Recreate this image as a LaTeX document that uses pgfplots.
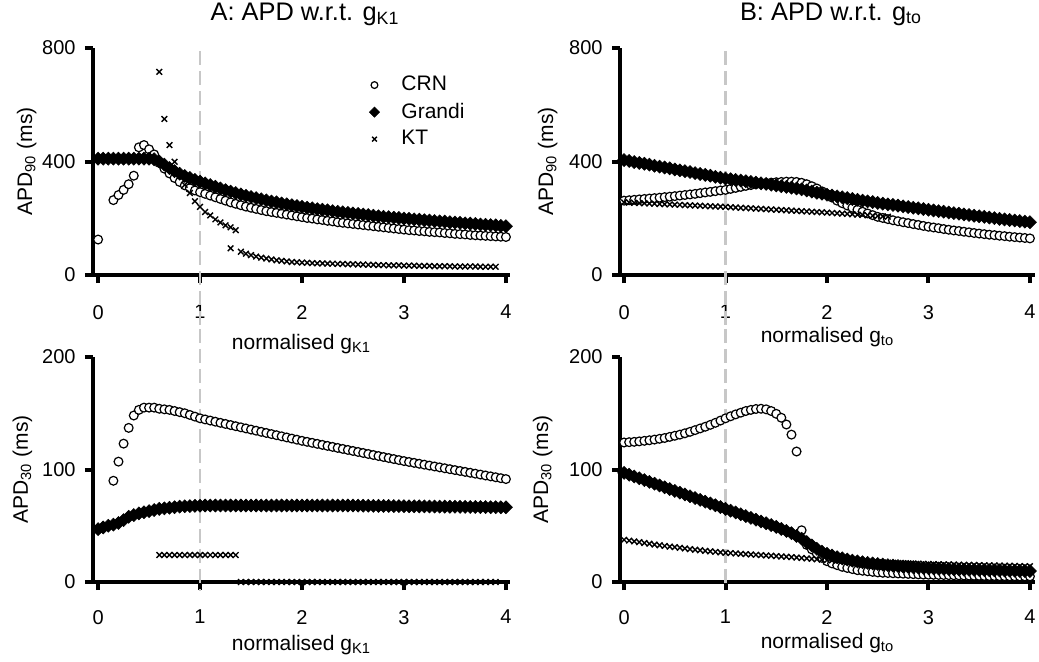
\documentclass[border=0pt]{standalone}
\usepackage{fontspec}
\setmainfont{Liberation Sans}
\usepackage{pgfplots}
\usepackage{pgfplotstable}
\pgfplotsset{compat=1.18}

\pgfplotstableread{
x c g
0.00 125 410
0.05 nan 410
0.10 nan 410
0.15 264 410
0.20 282 410
0.25 300 410
0.30 320 410
0.35 350 410
0.40 450 410
0.45 458 410
0.50 443 410
0.55 425 408
0.60 395 400
0.65 375 389
0.70 358 377
0.75 342 366
0.80 328 357
0.85 316 349
0.90 306 342
0.95 298 335
1.00 292 329
1.05 286 323
1.10 280 317
1.15 274 311
1.20 268 305
1.25 262 299
1.30 256 294
1.35 251 289
1.40 246 284
1.45 241 279
1.50 237 275
1.55 233 271
1.60 229 267
1.65 225 263
1.70 222 259
1.75 219 256
1.80 216 252
1.85 213 249
1.90 210 246
1.95 207 243
2.00 204 240
2.05 201 237
2.10 199 235
2.15 196 232
2.20 194 230
2.25 191 228
2.30 189 225
2.35 186 223
2.40 184 221
2.45 182 219
2.50 180 217
2.55 178 215
2.60 176 213
2.65 174 211
2.70 172 209
2.75 170 207
2.80 168 205
2.85 166 204
2.90 164 202
2.95 162 201
3.00 160 199
3.05 158 198
3.10 157 196
3.15 155 195
3.20 154 193
3.25 152 192
3.30 151 190
3.35 150 189
3.40 148 188
3.45 147 186
3.50 145 185
3.55 144 184
3.60 143 182
3.65 141 181
3.70 140 180
3.75 139 178
3.80 138 177
3.85 137 176
3.90 136 175
3.95 135 173
4.00 134 172
}\tabAtop

\pgfplotstableread{
x c g k
0.00 47 47 nan
0.05 nan 48.5 nan
0.10 nan 50 nan
0.15 90 51 nan
0.20 107 52.5 nan
0.25 123 55 nan
0.30 137 58 nan
0.35 148 59.5 nan
0.40 153 61 nan
0.45 155 62 nan
0.50 155 63 nan
0.55 155 64 nan
0.60 154 65 24
0.65 153.5 65.5 24
0.70 153 66 24
0.75 152 66.5 24
0.80 151 67 24
0.85 150 67.3 24
0.90 148.5 67.5 24
0.95 147 67.7 24
1.00 145.5 67.8 24
1.05 144.5 68 24
1.10 143.5 68 24
1.15 142.5 68 24
1.20 141.5 68 24
1.25 140.5 68 24
1.30 139.5 68 24
1.35 138.5 68 24
1.40 137.5 68 0
1.45 136.5 68 0
1.50 135.5 68 0
1.55 134.5 68 0
1.60 133.5 68 0
1.65 132.5 68 0
1.70 131.5 68 0
1.75 130.5 68 0
1.80 129.5 68 0
1.85 128.5 68 0
1.90 127.5 68 0
1.95 126.5 68 0
2.00 125.5 68 0
2.05 124.6 68 0
2.10 123.7 68 0
2.15 122.8 68 0
2.20 121.9 68 0
2.25 121 68 0
2.30 120.1 68 0
2.35 119.2 68 0
2.40 118.3 68 0
2.45 117.4 68 0
2.50 116.5 68 0
2.55 115.6 67.9 0
2.60 114.7 67.8 0
2.65 113.8 67.8 0
2.70 112.9 67.7 0
2.75 112 67.7 0
2.80 111.1 67.6 0
2.85 110.2 67.6 0
2.90 109.3 67.5 0
2.95 108.4 67.5 0
3.00 107.5 67.4 0
3.05 106.7 67.3 0
3.10 105.9 67.3 0
3.15 105.1 67.2 0
3.20 104.3 67.2 0
3.25 103.5 67.1 0
3.30 102.7 67.1 0
3.35 101.9 67 0
3.40 101.1 67 0
3.45 100.3 66.9 0
3.50 99.5 66.9 0
3.55 98.7 66.8 0
3.60 97.9 66.8 0
3.65 97.1 66.7 0
3.70 96.3 66.7 0
3.75 95.5 66.6 0
3.80 94.7 66.6 0
3.85 93.9 66.5 0
3.90 93.1 66.5 0
3.95 92.3 66.4 nan
4.00 91.5 66.4 nan
}\tabAbot

\pgfplotstableread{
x c g k
0.00 262 405 256
0.05 263.5 402 255.2
0.10 265 398 254.4
0.15 266.5 395 253.6
0.20 268 392 252.8
0.25 269.5 389 252
0.30 271 385 251.2
0.35 272.5 382 250.4
0.40 274.5 379 249.6
0.45 276 376 248.8
0.50 278 372 248
0.55 280 369 247.2
0.60 282 366 246.4
0.65 284 363 245.6
0.70 286 359 244.8
0.75 288.5 356 244
0.80 291 353 243.2
0.85 293 350 242.4
0.90 295.5 346 241.6
0.95 298 343 240.8
1.00 300 340 240
1.05 303.5 337.5 239
1.10 307 335 238
1.15 310.5 333 237
1.20 314 330.5 236
1.25 317 328 235
1.30 320 325.5 234
1.35 322 323 233
1.40 324 321 232
1.45 325.5 318.5 231
1.50 327 316 230
1.55 328 313 229
1.60 329 310.5 228
1.65 329 308 227
1.70 328 305 226
1.75 325 302 225
1.80 320 298 224
1.85 313 294 223
1.90 305 290 222
1.95 295 286.5 221
2.00 285 283 220
2.05 273 280 218.8
2.10 262 277 217.6
2.15 253 274 216.4
2.20 245 271 215.2
2.25 237 268 214
2.30 230 265 212.8
2.35 223 262 211.6
2.40 217 259.5 210.4
2.45 211 257 209.2
2.50 205 254 208
2.55 201 251.5 206.8
2.60 197 249 205.6
2.65 193 247 nan
2.70 189.5 244.5 nan
2.75 186 242 nan
2.80 183 239.5 nan
2.85 179.5 237 nan
2.90 176.5 235 nan
2.95 173 232.5 nan
3.00 170 230 nan
3.05 167.5 227.5 nan
3.10 165 225 nan
3.15 162 223 nan
3.20 159.5 220.5 nan
3.25 157 218 nan
3.30 155 216 nan
3.35 152.5 213.5 nan
3.40 150.5 211.5 nan
3.45 148 209 nan
3.50 146 207 nan
3.55 144 205 nan
3.60 142 202.5 nan
3.65 140.5 200.5 nan
3.70 138.5 198 nan
3.75 137 196 nan
3.80 135 194 nan
3.85 133.5 192 nan
3.90 132 190 nan
3.95 130.5 188 nan
4.00 129 186 nan
}\tabBtop

\pgfplotstableread{
x c g k
0.00 124 97 37.5
0.05 124.3 95.4 36.8
0.10 124.6 93.8 36.1
0.15 125 92.2 35.4
0.20 125.5 90.6 34.7
0.25 126 89 34
0.30 126.6 87.4 33.3
0.35 127.3 85.8 32.7
0.40 128 84.2 32.1
0.45 129 82.6 31.5
0.50 130 81 31
0.55 131 79.4 30.4
0.60 132.2 77.8 29.8
0.65 133.5 76.2 29.2
0.70 135 74.6 28.7
0.75 136.5 73 28.2
0.80 138 71.4 27.7
0.85 139.7 69.8 27.2
0.90 141.5 68.2 26.8
0.95 143.5 66.6 26.4
1.00 145.5 65 26
1.05 147.3 63.4 25.7
1.10 149 61.8 25.4
1.15 150.5 60.2 25.1
1.20 152 58.6 24.8
1.25 153 57 24.5
1.30 153.8 55.4 24.2
1.35 154 53.8 23.9
1.40 153.5 52.2 23.6
1.45 152 50.6 23.3
1.50 149.5 49 23
1.55 146 47.2 22.7
1.60 140 45.4 22.4
1.65 131 43.4 22.1
1.70 116 41 21.8
1.75 46 38.5 21.4
1.80 33 35.5 21
1.85 29 32.5 20.6
1.90 25 29.5 20.2
1.95 21.5 27 19.8
2.00 18.5 25 19.5
2.05 16.5 23.5 19.3
2.10 15 22 19.1
2.15 13.5 21 18.9
2.20 12.5 20 18.7
2.25 11.5 19 18.5
2.30 10.5 18.3 18.3
2.35 10 17.6 18.1
2.40 9.5 17 17.9
2.45 9 16.5 17.7
2.50 8.5 16 17.5
2.55 8.2 15.5 17.35
2.60 8 15 17.2
2.65 7.8 14.6 17.05
2.70 7.6 14.2 16.9
2.75 7.4 13.8 16.75
2.80 7.2 13.5 16.6
2.85 7 13.2 16.45
2.90 6.8 12.9 16.3
2.95 6.6 12.6 16.15
3.00 6.5 12.3 16
3.05 6.4 12.2 15.9
3.10 6.3 12 15.8
3.15 6.2 11.8 15.7
3.20 6.1 11.6 15.6
3.25 6 11.4 15.5
3.30 5.9 11.2 15.4
3.35 5.8 11 15.3
3.40 5.7 10.9 15.2
3.45 5.6 10.8 15.1
3.50 5.5 10.7 15
3.55 5.4 10.6 14.9
3.60 5.3 10.5 14.8
3.65 5.3 10.4 14.7
3.70 5.2 10.3 14.6
3.75 5.2 10.2 14.5
3.80 5.1 10.1 14.4
3.85 5.1 10 14.3
3.90 5 9.9 14.2
3.95 5 9.8 14.1
4.00 5 9.7 14
}\tabBbot

\tikzset{dashline/.style={color=black!22, line width=1.25bp, dash pattern=on 7bp off 3bp}}

\pgfplotsset{
  panel/.style={
    scale only axis, clip=false,
    axis x line=bottom, axis y line=left,
    axis line style={-, line width=2bp, black},
    tick align=outside, major tick length=4bp,
    tick style={line width=2bp, black},
    xtick={0,1,2,3,4},
    ticklabel style={font=\fontsize{10bp}{12bp}\selectfont, black},
    /pgf/number format/assume math mode=true,
    label style={font=\fontsize{10.5bp}{12bp}\selectfont},
    title style={font=\fontsize{12.7bp}{15bp}\selectfont, at={(axis description cs:0.5,1)}, anchor=base, yshift=8bp, xshift=1.75bp},
    yticklabel style={xshift=-1.2bp},
  },
  crn/.style={only marks, black, mark=*, mark size=2.2bp,
    mark options={fill=white, draw=black, line width=0.6bp},
    legend image code/.code={\draw[##1, mark size=1.7bp] plot coordinates {(8.5bp,0pt)}; \path[draw=none,fill=none] (0pt,0pt) -- (20bp,0pt);}},
  grandi/.style={only marks, black, mark=square*, mark size=2.3bp,
    mark options={rotate=45, line width=0.3bp},
    legend image code/.code={\draw[##1, mark size=1.8bp] plot coordinates {(8.5bp,0pt)}; \path[draw=none,fill=none] (0pt,0pt) -- (20bp,0pt);}},
  kt/.style={only marks, black, mark=x, mark size=2bp,
    mark options={line width=0.7bp},
    legend image code/.code={\draw[##1, mark size=1.7bp] plot coordinates {(8.5bp,0pt)}; \path[draw=none,fill=none] (0pt,0pt) -- (20bp,0pt);}},
}

\begin{document}
\begin{tikzpicture}
\useasboundingbox (0,0) rectangle (519.5bp,-331bp);

% ---------- A top ----------
\begin{axis}[panel,
  at={(46.5bp,-137.5bp)}, anchor=south west,
  width=208.5bp, height=113.5bp,
  xmin=-0.05, xmax=4.04, ymin=0, ymax=800, ytick={0,400,800},
  xticklabel style={yshift=-7.5bp},
  title={A: APD w.r.t. g\textsubscript{K1}},
  xlabel={normalised g\textsubscript{K1}},
  xlabel style={at={(axis description cs:0.5,0)}, anchor=base, yshift=-37bp},
  ylabel={APD\textsubscript{90} (ms)},
  ylabel style={at={(axis description cs:-0.146,0.5)}, anchor=base},
  legend style={draw=none, fill=none, inner sep=0pt, at={(axis cs:2.54,716)}, anchor=north west,
    font=\fontsize{10.5bp}{12bp}\selectfont, row sep=0.6bp},
  legend cell align=left,
]
\addplot[crn] table[x=x, y=c] {\tabAtop};
\addlegendentry{CRN}
\addplot[grandi] table[x=x, y=g] {\tabAtop};
\addlegendentry{Grandi}
\addplot[kt] coordinates {
(0.60,716) (0.65,550) (0.70,458) (0.75,399) (0.80,355) (0.85,318) (0.90,289) (0.95,260)
(1.00,240) (1.05,222) (1.10,210) (1.15,196) (1.20,185) (1.25,175) (1.30,168) (1.35,158)
(1.30,94) (1.40,82) (1.45,75) (1.50,70) (1.55,65) (1.60,61) (1.65,58) (1.70,55) (1.75,52)
(1.80,50) (1.85,48) (1.90,46) (1.95,45) (2.00,44) (2.05,43) (2.10,42) (2.15,41) (2.20,41)
(2.25,40) (2.30,40) (2.35,39) (2.40,39) (2.45,38) (2.50,38) (2.55,37) (2.60,37) (2.65,36)
(2.70,36) (2.75,35) (2.80,35) (2.85,34) (2.90,34) (2.95,34) (3.00,33) (3.05,33) (3.10,33)
(3.15,32) (3.20,32) (3.25,32) (3.30,31) (3.35,31) (3.40,31) (3.45,31) (3.50,30) (3.55,30)
(3.60,30) (3.65,30) (3.70,30) (3.75,29) (3.80,29) (3.85,29) (3.90,29)
};
\addlegendentry{KT}
\draw[dashline] (axis cs:1,790) -- (axis cs:1,-229);
\end{axis}

% ---------- A bottom ----------
\begin{axis}[panel,
  at={(46.5bp,-291bp)}, anchor=south west,
  width=208.5bp, height=112.5bp,
  xmin=-0.05, xmax=4.04, ymin=0, ymax=200, ytick={0,100,200},
  xticklabel style={yshift=-6.5bp},
  xlabel={normalised g\textsubscript{K1}},
  xlabel style={at={(axis description cs:0.5,0)}, anchor=base, yshift=-34bp},
  ylabel={APD\textsubscript{30} (ms)},
  ylabel style={at={(axis description cs:-0.156,0.5)}, anchor=base},
]
\addplot[crn] table[x=x, y=c] {\tabAbot};
\addplot[grandi] table[x=x, y=g] {\tabAbot};
\addplot[kt] table[x=x, y=k] {\tabAbot};
\draw[dashline] (axis cs:1,225) -- (axis cs:1,-8);
\end{axis}

% ---------- B top ----------
\begin{axis}[panel,
  at={(310bp,-137.5bp)}, anchor=south west,
  width=207.5bp, height=113.5bp,
  xmin=-0.04, xmax=4.05, ymin=0, ymax=800, ytick={0,400,800},
  xticklabel style={yshift=-7.5bp},
  title={B: APD w.r.t. g\textsubscript{to}},
  xlabel={normalised g\textsubscript{to}},
  xlabel style={at={(axis description cs:0.5,0)}, anchor=base, yshift=-33.5bp},
  ylabel={APD\textsubscript{90} (ms)},
  ylabel style={at={(axis description cs:-0.161,0.5)}, anchor=base},
]
\addplot[crn] table[x=x, y=c] {\tabBtop};
\addplot[grandi] table[x=x, y=g] {\tabBtop};
\addplot[kt] table[x=x, y=k] {\tabBtop};
\draw[dashline] (axis cs:1,790) -- (axis cs:1,-229);
\end{axis}

% ---------- B bottom ----------
\begin{axis}[panel,
  at={(310bp,-291bp)}, anchor=south west,
  width=207.5bp, height=112.5bp,
  xmin=-0.04, xmax=4.05, ymin=0, ymax=200, ytick={0,100,200},
  xticklabel style={yshift=-6.5bp},
  xlabel={normalised g\textsubscript{to}},
  xlabel style={at={(axis description cs:0.5,0)}, anchor=base, yshift=-33bp},
  ylabel={APD\textsubscript{30} (ms)},
  ylabel style={at={(axis description cs:-0.1735,0.5)}, anchor=base},
]
\addplot[crn] table[x=x, y=c] {\tabBbot};
\addplot[grandi] table[x=x, y=g] {\tabBbot};
\addplot[kt] table[x=x, y=k] {\tabBbot};
\draw[dashline] (axis cs:1,225) -- (axis cs:1,-5);
\end{axis}
\end{tikzpicture}
\end{document}
